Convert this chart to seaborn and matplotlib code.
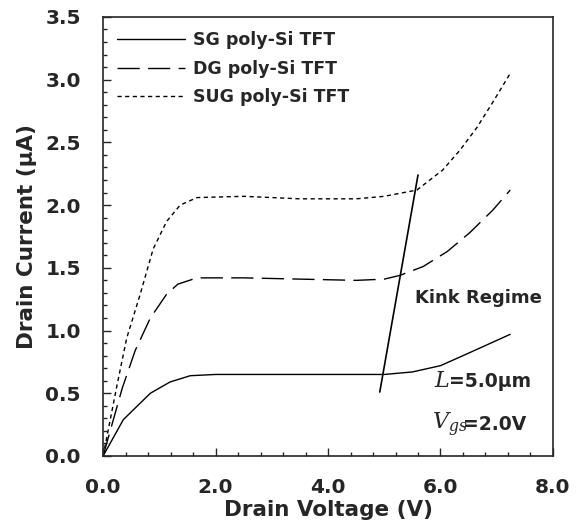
import matplotlib
matplotlib.use('Agg')
from matplotlib import pyplot as plt
from matplotlib.ticker import MultipleLocator
import pandas as pd
import seaborn as sns

# data
sg_v = [0, 0.36, 0.84, 1.19, 1.55, 2.0, 3.0, 4.0, 5.0, 5.5, 6.0, 6.5, 7.24]
sg_i = [0, 0.29, 0.50, 0.59, 0.64, 0.65, 0.65, 0.65, 0.65, 0.67, 0.72, 0.82, 0.97]

dg_v = [0, 0.34, 0.57, 0.84, 1.13, 1.33, 1.67, 2.5, 3.5, 4.5, 5.0, 5.28, 5.69, 6.12, 6.52, 6.93, 7.24]
dg_i = [0, 0.54, 0.84, 1.10, 1.29, 1.37, 1.42, 1.42, 1.41, 1.40, 1.41, 1.44, 1.51, 1.63, 1.78, 1.96, 2.12]

sug_v = [0, 0.25, 0.42, 0.66, 0.89, 1.13, 1.37, 1.67, 2.5, 3.5, 4.5, 5.0, 5.58, 6.04, 6.35, 6.65, 6.93, 7.24]
sug_i = [0, 0.57, 0.94, 1.29, 1.65, 1.87, 2.00, 2.06, 2.07, 2.05, 2.05, 2.07, 2.12, 2.28, 2.44, 2.62, 2.82, 3.05]

kink_v = [4.92, 5.6]
kink_i = [0.51, 2.24]

names = ['SG poly-Si TFT', 'DG poly-Si TFT', 'SUG poly-Si TFT']

df = pd.concat([
    pd.DataFrame({'V': sg_v, 'I': sg_i, 'device': names[0]}),
    pd.DataFrame({'V': dg_v, 'I': dg_i, 'device': names[1]}),
    pd.DataFrame({'V': sug_v, 'I': sug_i, 'device': names[2]}),
])

sns.set_style('ticks')
plt.rcParams['font.family'] = ['DejaVu Sans']
plt.rcParams['mathtext.fontset'] = 'dejavuserif'
plt.rcParams['xtick.direction'] = 'in'
plt.rcParams['ytick.direction'] = 'in'

f, ax = plt.subplots(figsize=(5.76, 5.29), dpi=100)

sns.lineplot(data=df, x='V', y='I', style='device', color='black', linewidth=1,
             dashes={names[0]: '', names[1]: (16, 6), names[2]: (3, 2.5)},
             sort=False, estimator=None, ax=ax)
ax.plot(kink_v, kink_i, color='black', linewidth=1.2)

ax.set_xlim(0, 8)
ax.set_ylim(0, 3.5)
ax.xaxis.set_major_locator(MultipleLocator(2))
ax.xaxis.set_minor_locator(MultipleLocator(0.4))
ax.yaxis.set_major_locator(MultipleLocator(0.5))
ax.yaxis.set_minor_locator(MultipleLocator(0.1))
ax.xaxis.set_major_formatter(lambda v, p: f'{v:.1f}')
ax.yaxis.set_major_formatter(lambda v, p: f'{v:.1f}')
ax.tick_params(which='major', length=6, width=1, labelsize=14.5)
ax.tick_params(axis='x', which='major', pad=16)
ax.tick_params(axis='y', which='major', pad=16)
ax.tick_params(which='minor', length=3, width=1)
for lab in ax.get_xticklabels() + ax.get_yticklabels():
    lab.set_fontweight('bold')
for s in ax.spines.values():
    s.set_linewidth(1.2)

ax.set_xlabel('Drain Voltage (V)', fontsize=15.5, fontweight='bold', labelpad=2)
ax.set_ylabel('Drain Current (\u03bcA)', fontsize=15.5, fontweight='bold', labelpad=6)

leg = ax.legend(loc='upper left', frameon=False, handlelength=3.9,
                prop={'weight': 'bold', 'size': 12.5}, borderaxespad=0.4,
                labelspacing=0.62, handletextpad=0.5)

ax.text(5.55, 1.22, 'Kink Regime', fontsize=13, fontweight='bold')
ax.text(5.88, 0.55, '$\\mathit{L}$', fontsize=16)
ax.text(6.15, 0.55, '=5.0\u03bcm', fontsize=13.5, fontweight='bold')
ax.text(5.85, 0.21, '$\\mathit{V}_{\\mathit{gs}}$', fontsize=16)
ax.text(6.4, 0.21, '=2.0V', fontsize=13.5, fontweight='bold')

plt.subplots_adjust(left=0.179, right=0.96, bottom=0.138, top=0.968)
plt.savefig('out.png', dpi=100)
